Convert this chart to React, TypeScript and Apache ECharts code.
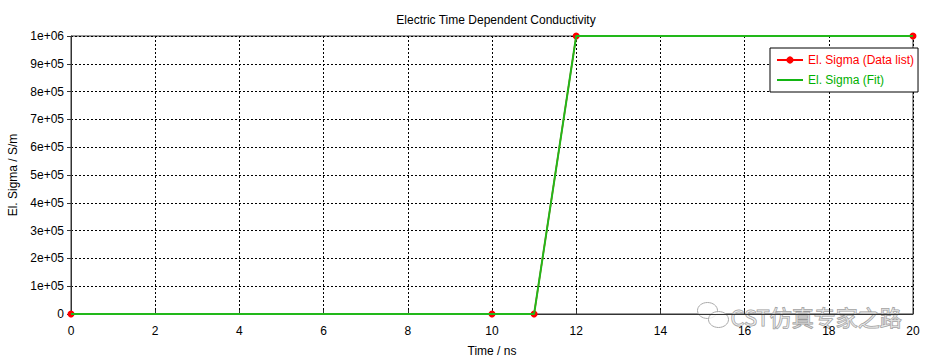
import React, { useEffect, useRef } from "react";
import * as echarts from "echarts";

const dataX = [0, 10, 11, 12, 20];
const dataY = [0, 0, 0, 1000000, 1000000];
const fitX = [0, 11, 12, 20];
const fitY = [0, 0, 1000000, 1000000];
const seriesNames = ["El. Sigma (Data list)", "El. Sigma (Fit)"];

const FONT = "Liberation Sans";

function fmtY(v: number): string {
  if (v === 0) return "0";
  return v.toExponential(0).replace(/e\+(\d)$/, "e+0$1");
}

export default function App() {
  const ref = useRef<HTMLDivElement>(null);
  useEffect(() => {
    if (!ref.current) return;
    const chart = echarts.init(ref.current, undefined, { renderer: "svg" });
    chart.setOption({
      animation: false,
      backgroundColor: "#ffffff",
      title: {
        text: "Electric Time Dependent Conductivity",
        left: 491,
        textAlign: "center",
        top: 9,
        textStyle: { fontFamily: FONT, fontSize: 12, fontWeight: "normal", color: "#000" },
      },
      grid: {
        left: 71,
        right: 27,
        top: 36,
        bottom: 47,
        show: true,
        borderColor: "#333",
        borderWidth: 1,
        containLabel: false,
        outerBoundsMode: "none",
      },
      legend: {
        orient: "vertical",
        left: 770,
        top: 48,
        backgroundColor: "#fff",
        borderColor: "#000",
        borderWidth: 1,
        borderRadius: 0,
        padding: [6, 4, 6, 6],
        itemGap: 8,
        itemWidth: 26,
        itemHeight: 9,
        data: [
          { name: seriesNames[0], textStyle: { color: "#ff0000" } },
          { name: seriesNames[1], textStyle: { color: "#00b000" }, icon: "path://M0,4 L28,4 L28,6 L0,6 Z" },
        ],
        textStyle: { fontFamily: FONT, fontSize: 12 },
      },
      xAxis: {
        type: "value",
        min: 0,
        max: 20,
        interval: 2,
        name: "Time / ns",
        nameLocation: "middle",
        nameGap: 31,
        nameTextStyle: { fontFamily: FONT, fontSize: 12, color: "#000" },
        axisLine: { show: true, lineStyle: { color: "#333" } },
        axisTick: { show: true, inside: true, length: 4, lineStyle: { color: "#333" } },
        axisLabel: { fontFamily: FONT, fontSize: 12, color: "#000", margin: 11 },
        splitLine: { show: true, lineStyle: { color: "#000", type: [2, 2], width: 1 } },
      },
      yAxis: {
        type: "value",
        min: 0,
        max: 1000000,
        interval: 100000,
        name: "El. Sigma / S/m",
        nameLocation: "middle",
        nameGap: 46,
        nameTextStyle: { fontFamily: FONT, fontSize: 12, color: "#000" },
        axisLine: { show: true, lineStyle: { color: "#333" } },
        axisTick: { show: true, inside: false, length: 4, lineStyle: { color: "#333" } },
        axisLabel: { fontFamily: FONT, fontSize: 12, color: "#000", margin: 7, formatter: fmtY },
        splitLine: { show: true, lineStyle: { color: "#000", type: [2, 2], width: 1 } },
      },
      series: [
        {
          name: seriesNames[0],
          type: "line",
          data: dataX.map((x, i) => [x, dataY[i]]),
          symbol: "circle",
          symbolSize: 7,
          itemStyle: { color: "#ff0000" },
          lineStyle: { color: "#ff0000", width: 1.5 },
          z: 2,
        },
        {
          name: seriesNames[1],
          type: "line",
          data: fitX.map((x, i) => [x, fitY[i]]),
          showSymbol: false,
          symbol: "none",
          itemStyle: { color: "#00b000" },
          lineStyle: { color: "#22b81a", width: 2 },
          z: 3,
        },
      ],
      graphic: [
        {
          type: "group",
          left: 697,
          top: 302,
          silent: true,
          children: [
            { type: "ellipse", shape: { cx: 11, cy: 8, rx: 10, ry: 8 }, style: { fill: "rgba(255,255,255,0.6)", stroke: "#aaa", lineWidth: 1 } },
            { type: "ellipse", shape: { cx: 22, cy: 17, rx: 10, ry: 8 }, style: { fill: "rgba(255,255,255,0.8)", stroke: "#aaa", lineWidth: 1 } },
            {
              type: "text",
              x: 34,
              y: 2,
              style: {
                text: "CST仿真专家之路",
                font: "22px 'Noto Sans CJK SC'",
                fill: "rgba(255,255,255,0.4)",
                stroke: "#999",
                lineWidth: 1,
              },
            },
          ],
        },
      ],
    });
    return () => chart.dispose();
  }, []);
  return (
    <div
      ref={ref}
      style={{ position: "absolute", left: 0, top: 0, width: 940, height: 361 }}
    />
  );
}
